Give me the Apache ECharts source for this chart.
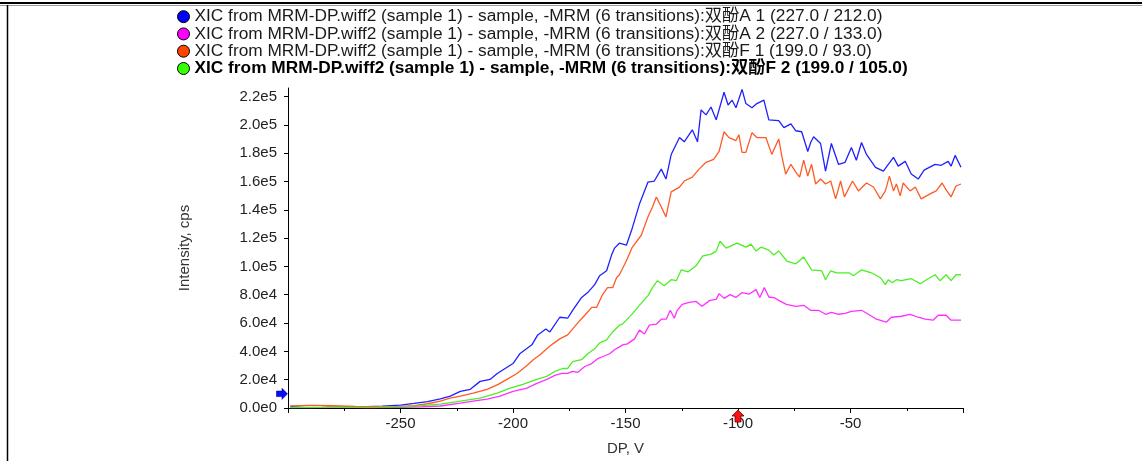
<!DOCTYPE html>
<html><head><meta charset="utf-8">
<script src="https://cdn.jsdelivr.net/npm/echarts@6/dist/echarts.min.js"></script>
<style>html,body{margin:0;padding:0;background:#fff}#c{width:1142px;height:461px}</style>
</head><body><div id="c"></div>
<script>
const seriesNames = [
  'XIC from MRM-DP.wiff2 (sample 1) - sample, -MRM (6 transitions):双酚A 1 (227.0 / 212.0)',
  'XIC from MRM-DP.wiff2 (sample 1) - sample, -MRM (6 transitions):双酚A 2 (227.0 / 133.0)',
  'XIC from MRM-DP.wiff2 (sample 1) - sample, -MRM (6 transitions):双酚F 1 (199.0 / 93.0)',
  'XIC from MRM-DP.wiff2 (sample 1) - sample, -MRM (6 transitions):双酚F 2 (199.0 / 105.0)'
];
// [DP (V), intensity (cps)]
const bpa1 = [[-299,900],[-292,300],[-285,400],[-275,600],[-265,900],[-258,1300],[-250,2000],[-244,3200],[-238,4500],[-232.3,6500],[-227.9,8400],[-223.4,11800],[-219,13200],[-214.6,18800],[-210.2,20200],[-207,24400],[-203.5,27900],[-200,31400],[-197,38300],[-191.6,44600],[-189,51600],[-185.4,55800],[-183.6,53700],[-179.2,64100],[-175.7,63400],[-173.5,69000],[-169.5,78100],[-166.8,81500],[-163.7,87100],[-161.5,93400],[-158.4,96900],[-156.2,108000],[-154.9,112900],[-152.7,116400],[-149.6,115000],[-147,127000],[-143.8,144000],[-140,159600],[-137.2,160300],[-134.1,168700],[-132,161700],[-129.7,179000],[-126,191000],[-123.9,188000],[-120.3,196500],[-118,188000],[-116.4,210500],[-114.2,207000],[-112,212600],[-109.7,203500],[-106.2,223000],[-104.4,214000],[-102.6,217400],[-100.9,212000],[-98.2,225000],[-96.5,215000],[-93.8,212000],[-91.6,215000],[-88.5,217400],[-86.3,203500],[-81.9,203000],[-79.6,198000],[-76.5,200700],[-74.3,195800],[-71.7,195100],[-69,181200],[-67.7,187500],[-66.4,191600],[-63.3,186800],[-61.1,167300],[-58.5,186800],[-55.3,172000],[-52.4,173500],[-49.6,184000],[-47.4,175000],[-45.1,187500],[-42.9,179100],[-38.9,170000],[-35.4,167300],[-30.9,177000],[-28.8,170800],[-25.7,174200],[-23,165200],[-19.9,161700],[-17.3,168000],[-12.4,172100],[-9.7,171400],[-6.6,174200],[-5.3,170800],[-3.5,178400],[-0.9,170000]];
const bpa2 = [[-283,600],[-276,600],[-265,300],[-250,500],[-240,900],[-232.3,1400],[-223.4,3500],[-217.7,4900],[-211.5,6300],[-205.8,8400],[-200,11800],[-193.8,14000],[-189.4,17400],[-185,20200],[-181.4,23000],[-178.3,24400],[-175.7,24400],[-173.5,25800],[-171.3,25100],[-168.1,29300],[-165,31400],[-162.4,34800],[-160.2,36200],[-157,38300],[-154.9,41100],[-152.7,43200],[-151.3,44600],[-149.1,45300],[-146,48800],[-143.8,55000],[-141.6,52300],[-139.4,58500],[-136.3,59200],[-134.1,62700],[-131.9,62700],[-130.1,69000],[-128.3,63400],[-127,69000],[-124.8,73200],[-121.7,74600],[-118.6,75300],[-116,71800],[-112.5,76000],[-109.7,76700],[-108.4,80800],[-106.2,77400],[-103.5,80100],[-100.9,78100],[-98.2,81500],[-95,80500],[-92,83600],[-90.3,78100],[-88.3,85000],[-86.3,78400],[-83.6,77700],[-81.9,76000],[-78.5,73200],[-74.3,71800],[-70.8,72500],[-67.7,69000],[-64.2,69000],[-61.1,66200],[-58.5,67600],[-55.3,66200],[-52.4,66900],[-49.6,68300],[-45.1,69000],[-42,66200],[-38.5,62700],[-34.1,60600],[-31.8,64100],[-27.4,64800],[-23.5,66200],[-19.9,64100],[-16.8,62700],[-13.3,62000],[-11,65500],[-7.5,65500],[-5.3,62000],[-0.9,62000]];
const bpf1 = [[-299,1500],[-290,1800],[-280,1600],[-270,1200],[-258,1000],[-250,1200],[-244,1600],[-238,3000],[-232.3,4900],[-228,7000],[-223.4,8400],[-217.7,10500],[-211.5,13200],[-206.6,16700],[-202.7,20200],[-198.2,24400],[-193.8,30000],[-191,34100],[-188,37600],[-185,41800],[-182.3,45300],[-179.2,48800],[-175.7,51600],[-171.7,59200],[-168.1,65500],[-165,71100],[-162.8,71100],[-160.2,80100],[-158,85000],[-155.7,85000],[-154,92000],[-152.7,94100],[-149.6,104000],[-147,113500],[-143,122000],[-140,135000],[-138,142000],[-136.3,149000],[-134.1,142000],[-132,135000],[-129.7,152600],[-126,156000],[-123.9,160300],[-120.3,163000],[-117.3,168700],[-114.2,173500],[-110.8,175600],[-108.4,181200],[-106.2,195100],[-104,191000],[-100.9,188900],[-99.6,193000],[-98.2,180500],[-96.5,180500],[-93.8,194400],[-91.6,191000],[-87.6,191000],[-85,179100],[-81.9,190000],[-80.5,177700],[-78.8,165200],[-76.5,172100],[-74.3,166600],[-72.6,163000],[-70.8,175000],[-69,163800],[-67.3,172100],[-65.5,158200],[-63.3,161700],[-61.1,158200],[-58.8,160300],[-56.6,147700],[-54.4,160300],[-52.7,149100],[-49.1,160300],[-46.5,153300],[-42.9,158900],[-39.8,156100],[-36.7,147700],[-34.5,153300],[-32.7,163800],[-30.9,153300],[-29.6,158200],[-27.9,149800],[-26.6,158900],[-23.5,153300],[-21.2,156100],[-18.6,147700],[-14.6,151200],[-11.9,153300],[-9.3,158900],[-7.5,154000],[-5.3,149100],[-3.1,156800],[-0.9,158200]];
const bpf2 = [[-299,300],[-280,400],[-260,600],[-245,1200],[-238,2000],[-232.3,2800],[-223.4,4900],[-214.6,7000],[-207,10500],[-201.3,14000],[-195.6,16700],[-189.4,20200],[-185,22300],[-181.4,25800],[-177.9,27900],[-175.7,27900],[-173.5,32800],[-169.5,34100],[-166.8,38300],[-163.7,41800],[-161.5,46000],[-158.4,48100],[-155.7,53700],[-152.7,58500],[-151.3,59200],[-147,66500],[-143.8,72500],[-140,79400],[-138,85000],[-135.8,89900],[-132.8,86400],[-129.7,90600],[-127.4,89900],[-125.2,97600],[-122.1,96200],[-118.6,100400],[-115.8,107300],[-111.9,108700],[-109.7,110800],[-108,117800],[-105.3,112900],[-100.4,116400],[-96.5,113600],[-94.2,115700],[-92,110800],[-89.8,113600],[-86.3,111500],[-84.1,108000],[-81.9,110800],[-78.3,103800],[-74.3,101800],[-70.8,106600],[-67.3,97600],[-62.8,96900],[-61.1,90600],[-58.8,96900],[-56.2,95500],[-50.6,95500],[-48.7,93400],[-45.1,97600],[-40.7,95500],[-36.7,92000],[-34.5,87100],[-33.2,90600],[-31.4,88500],[-29.6,90600],[-27.4,89900],[-23,91300],[-19,87800],[-15.5,91300],[-12.4,94100],[-10.2,89900],[-7.5,94100],[-5.3,89900],[-3.1,94100],[-0.9,94100]];
const seriesData = [bpa1, bpa2, bpf1, bpf2];
const levelMarker = [[-300, 10000]];   // blue arrow on the intensity axis
const dpMarker = [[-100, 0]];          // red arrow on the DP axis
const xRange = [-300, 0], xStep = 50;
const yRange = [0, 226000], yStep = 20000;

const lineColors = ['#2020ff', '#ff30ff', '#ff5a26', '#4cee24'];
const iconColors = ['#0000ff', '#ff00ff', '#ff4500', '#33ff00'];
const FONT = "'Liberation Sans', Arial, 'Noto Sans CJK SC', sans-serif";

const chart = echarts.init(document.getElementById('c'), null, {renderer: 'canvas'});
chart.setOption({
  animation: false,
  backgroundColor: '#fff',
  grid: {left: 288, right: 179, top: 88, bottom: 49},
  legend: {
    orient: 'vertical', left: 172, top: 3, itemGap: 0,
    itemWidth: 12, itemHeight: 12, icon: 'circle', selectedMode: false,
    itemStyle: {borderColor: '#000', borderWidth: 1},
    textStyle: {fontFamily: FONT, fontSize: 17.3, color: '#1a1a1a', lineHeight: 16.3},
    data: seriesNames.map((n, i) => ({
      name: n, itemStyle: {color: iconColors[i], borderColor: '#000', borderWidth: 1},
      textStyle: i === 3 ? {fontWeight: 'bold', color: '#000'} : {}
    }))
  },
  xAxis: {
    type: 'value', min: xRange[0], max: xRange[1], interval: xStep,
    name: 'DP, V', nameLocation: 'middle', nameGap: 33,
    nameTextStyle: {fontFamily: FONT, fontSize: 15, color: '#333'},
    axisLine: {onZero: false, lineStyle: {color: '#000', width: 1}},
    axisTick: {length: 5, lineStyle: {color: '#000'}},
    minorTick: {show: true, splitNumber: 2, length: 3, lineStyle: {color: '#000'}},
    splitLine: {show: false},
    axisLabel: {showMinLabel: false, showMaxLabel: false, margin: 8,
      fontFamily: FONT, fontSize: 15, color: '#222'}
  },
  yAxis: {
    type: 'value', min: yRange[0], max: yRange[1], interval: yStep,
    name: 'Intensity, cps', nameLocation: 'middle', nameGap: 96,
    nameTextStyle: {fontFamily: FONT, fontSize: 15, color: '#333'},
    axisLine: {show: true, onZero: false, lineStyle: {color: '#000', width: 1}},
    axisTick: {show: true, length: 4, lineStyle: {color: '#000'}},
    splitLine: {show: false},
    axisLabel: {showMaxLabel: false, margin: 11, fontFamily: FONT, fontSize: 15, color: '#222',
      formatter: v => v.toExponential(1).replace('e+', 'e')}
  },
  series: seriesNames.map((n, i) => ({
    name: n, type: 'line', data: seriesData[i], showSymbol: false, symbol: 'none',
    itemStyle: {color: iconColors[i]},
    lineStyle: {color: lineColors[i], width: 1.3}, z: 2 + i
  })).concat([{
    name: 'markers', type: 'scatter', data: [], silent: true, z: 10,
    markPoint: {
      silent: true, label: {show: false},
      data: levelMarker.map(c => ({
        coord: c, symbol: 'path://M0,3 L6,3 L6,0 L12,6 L6,12 L6,9 L0,9 Z',
        symbolSize: [11, 11], symbolOffset: [-6, 0],
        itemStyle: {color: '#0a0aff', borderColor: '#00008a', borderWidth: 0.6}
      })).concat(dpMarker.map(c => ({
        coord: c, symbol: 'path://M6,0 L12,6 L9,6 L9,12 L3,12 L3,6 L0,6 Z',
        symbolSize: [12, 12], symbolOffset: [0, 8],
        itemStyle: {color: '#ff1010', borderColor: '#700000', borderWidth: 0.8}
      })))
    }
  }]),
  graphic: [
    {type: 'line', silent: true, shape: {x1: 0, y1: 3, x2: 1142, y2: 3}, style: {stroke: '#000', lineWidth: 2}},
    {type: 'line', silent: true, shape: {x1: 0, y1: 5.5, x2: 1142, y2: 5.5}, style: {stroke: '#9a9a9a', lineWidth: 1}},
    {type: 'line', silent: true, shape: {x1: 7.5, y1: 5, x2: 7.5, y2: 461}, style: {stroke: '#000', lineWidth: 1.5}}
  ]
});
</script></body></html>
